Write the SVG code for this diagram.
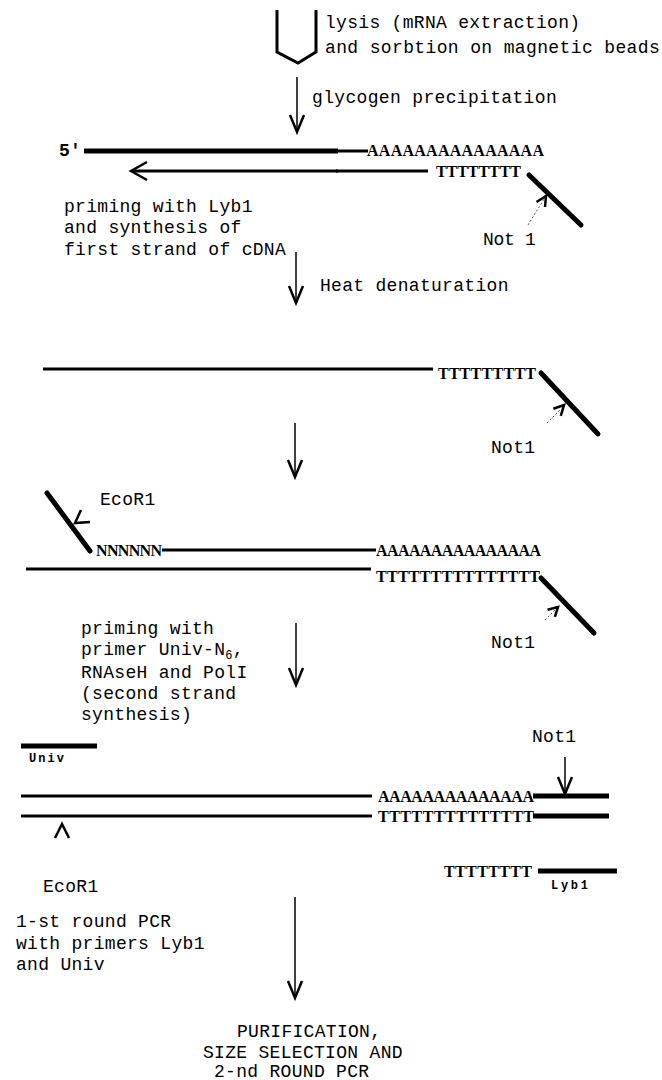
<svg xmlns="http://www.w3.org/2000/svg" width="662" height="1080" viewBox="0 0 662 1080">
<style>
.lbl{font-family:"Liberation Mono","DejaVu Sans Mono",monospace;font-size:18px;letter-spacing:0.3px;fill:#000}
.seq{font-family:"Liberation Serif","DejaVu Serif",serif;font-size:16px;font-weight:bold;fill:#000}
.sm{font-family:"Liberation Mono","DejaVu Sans Mono",monospace;font-size:12px;font-weight:bold;fill:#000}
.ln{stroke:#000;stroke-width:3;fill:none}
.thk{stroke:#000;stroke-width:5;fill:none}
.diag{stroke:#000;stroke-width:5;fill:none;stroke-linecap:round}
.arr{stroke:#000;stroke-width:1.5;fill:none}
.head{stroke:#000;stroke-width:2.5;fill:none;stroke-linejoin:miter}
.dot{stroke:#555;stroke-width:1;stroke-dasharray:2 2;fill:none}
</style>
<rect width="662" height="1080" fill="#fff"/>

<g id="tube">
<path d="M277,10 V52 L298,63 L316,52 V10" class="ln" stroke-width="2.5"/>
<text class="lbl" x="325" y="28">lysis (mRNA extraction)</text>
<text class="lbl" x="325" y="53" textLength="335">and sorbtion on magnetic beads</text>
</g>

<g id="step1-label"><text class="lbl" x="312" y="103" textLength="245">glycogen precipitation</text></g>

<g id="duplex1">
<text class="lbl" x="59" y="156" font-weight="bold" font-size="15">5'</text>
<line x1="84" y1="151" x2="338" y2="151" class="thk"/>
<line x1="336" y1="151" x2="368" y2="151" class="ln"/>
<text class="seq" x="367" y="156" textLength="177">AAAAAAAAAAAAAAA</text>
<line x1="132" y1="171" x2="338" y2="171" class="ln" stroke-width="3.5"/>
<line x1="336" y1="171" x2="428" y2="171" class="ln"/>
<path d="M147,162 L131,171 L147,180" class="head" stroke-width="3.5"/>
<text class="seq" x="436" y="177" textLength="85">TTTTTTTT</text>
<line x1="529" y1="175" x2="581" y2="225" class="diag"/>
<path d="M528,225 L544,199" class="dot"/>
<path d="M536.5,202 L546,196 L545,207" class="head" stroke-width="2"/>
<text class="lbl" x="483" y="245" textLength="53">Not 1</text>
</g>

<g id="step2-label">
<text class="lbl" x="64" y="212">priming with Lyb1</text>
<text class="lbl" x="64" y="233">and synthesis of</text>
<text class="lbl" x="64" y="255">first strand of cDNA</text>
<text class="lbl" x="320" y="291">Heat denaturation</text>
</g>

<g id="strand2">
<line x1="43" y1="369" x2="433" y2="369" class="ln"/>
<text class="seq" x="438" y="379" textLength="98">TTTTTTTTT</text>
<line x1="541" y1="373" x2="598" y2="434" class="diag"/>
<path d="M547,423 L561,409" class="dot"/>
<path d="M553.4,408.8 L564,405 L560.8,415.8" class="head" stroke-width="2"/>
<text class="lbl" x="491" y="453">Not1</text>
</g>

<g id="duplex3">
<line x1="47" y1="493" x2="90" y2="551" class="diag"/>
<path d="M81,510 L75,523 L90,522" class="head" stroke-width="2.5"/>
<text class="lbl" x="100" y="505">EcoR1</text>
<text class="seq" x="96" y="556" textLength="66">NNNNNN</text>
<line x1="162" y1="550" x2="376" y2="550" class="ln"/>
<text class="seq" x="376" y="556" textLength="165">AAAAAAAAAAAAAAA</text>
<line x1="26" y1="569" x2="371" y2="569" class="ln"/>
<text class="seq" x="376" y="582" textLength="164">TTTTTTTTTTTTTTT</text>
<line x1="541" y1="578" x2="594" y2="633" class="diag"/>
<path d="M545,620 L555,610" class="dot"/>
<path d="M547.5,609.8 L558,607 L554.9,616.8" class="head" stroke-width="2.5"/>
<text class="lbl" x="491" y="648">Not1</text>
</g>

<g id="step3-label">
<text class="lbl" x="81" y="634">priming with</text>
<text class="lbl" x="81" y="655">primer Univ-N<tspan font-size="12" dy="4">6</tspan><tspan dy="-4">,</tspan></text>
<text class="lbl" x="81" y="678">RNAseH and PolI</text>
<text class="lbl" x="81" y="699">(second strand</text>
<text class="lbl" x="81" y="720">synthesis)</text>
</g>

<g id="duplex4">
<line x1="21" y1="746" x2="97" y2="746" class="thk"/>
<text class="sm" x="29" y="762" textLength="35">Univ</text>
<text class="lbl" x="532" y="742">Not1</text>
<line x1="21" y1="796" x2="372" y2="796" class="ln"/>
<text class="seq" x="378" y="802" textLength="156">AAAAAAAAAAAAAA</text>
<line x1="533" y1="796" x2="609" y2="796" class="thk"/>
<line x1="21" y1="816" x2="372" y2="816" class="ln"/>
<text class="seq" x="378" y="822" textLength="156">TTTTTTTTTTTTTT</text>
<line x1="533" y1="816" x2="609" y2="816" class="thk"/>
<path d="M55,838 L62,824 L69,838" class="head" stroke-width="3.5"/>
<text class="seq" x="444" y="877" textLength="88">TTTTTTTT</text>
<line x1="538" y1="871" x2="617" y2="871" class="thk"/>
<text class="sm" x="551" y="889" textLength="37">Lyb1</text>
<text class="lbl" x="43" y="892">EcoR1</text>
</g>

<g id="step4-label">
<text class="lbl" x="16" y="927">1-st round PCR</text>
<text class="lbl" x="16" y="949">with primers Lyb1</text>
<text class="lbl" x="16" y="970">and Univ</text>
</g>

<g id="final">
<text class="lbl" x="237" y="1037">PURIFICATION,</text>
<text class="lbl" x="203" y="1058">SIZE SELECTION AND</text>
<text class="lbl" x="214" y="1077">2-nd ROUND PCR</text>
</g>

<g id="connectors">
<line x1="297" y1="77" x2="297" y2="130" class="arr"/>
<path d="M290,115 L297,132 L304,115" class="head"/>
<line x1="296" y1="252" x2="296" y2="301" class="arr"/>
<path d="M289,286 L296,303 L303,286" class="head"/>
<line x1="295" y1="423" x2="295" y2="475" class="arr"/>
<path d="M288,460 L295,477 L302,460" class="head"/>
<line x1="296" y1="623" x2="296" y2="683" class="arr"/>
<path d="M289,668 L296,685 L303,668" class="head"/>
<line x1="565" y1="757" x2="565" y2="792" class="arr"/>
<path d="M558,777 L565,794 L572,777" class="head"/>
<line x1="295" y1="897" x2="295" y2="996" class="arr"/>
<path d="M288,981 L295,998 L302,981" class="head"/>
</g>
</svg>
